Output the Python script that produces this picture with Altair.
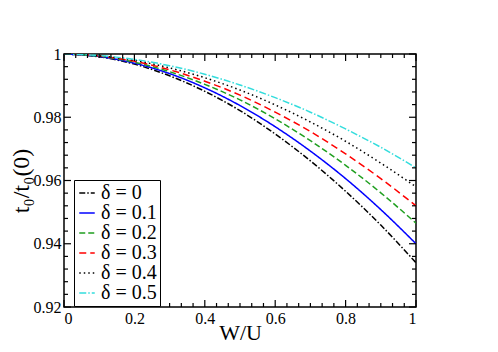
import altair as alt
import pandas as pd

# ---- data ----
w_u = [0.0, 0.1, 0.2, 0.3, 0.4, 0.5, 0.6, 0.7, 0.8, 0.9, 1.0]
t_d00 = [1.0, 0.9991, 0.9968, 0.9931, 0.9882, 0.9821, 0.9747, 0.9662, 0.9566, 0.9459, 0.9340]
t_d01 = [1.0, 0.9992, 0.9971, 0.9938, 0.9893, 0.9837, 0.9770, 0.9693, 0.9606, 0.9508, 0.9400]
t_d02 = [1.0, 0.9993, 0.9974, 0.9944, 0.9904, 0.9855, 0.9795, 0.9726, 0.9648, 0.9561, 0.9465]
t_d03 = [1.0, 0.9994, 0.9977, 0.9950, 0.9914, 0.9870, 0.9816, 0.9755, 0.9684, 0.9606, 0.9520]
t_d04 = [1.0, 0.9994, 0.9980, 0.9956, 0.9925, 0.9886, 0.9839, 0.9785, 0.9724, 0.9655, 0.9580]
t_d05 = [1.0, 0.9995, 0.9983, 0.9963, 0.9936, 0.9902, 0.9862, 0.9816, 0.9763, 0.9705, 0.9640]

labels = ["δ = 0", "δ = 0.1", "δ = 0.2", "δ = 0.3", "δ = 0.4", "δ = 0.5"]
series = [t_d00, t_d01, t_d02, t_d03, t_d04, t_d05]
colors = ["#000000", "#0000ff", "#1f9f1f", "#ff0000", "#000000", "#33dddd"]
dashes = [[6, 2, 1.5, 2], [1, 0], [6, 3], [7, 4], [1.5, 3], [7, 2, 1.5, 2]]

x_major = [0, 0.2, 0.4, 0.6, 0.8, 1.0]
x_minor = [k / 30 for k in range(31) if k % 6 != 0]
y_major = [0.92, 0.94, 0.96, 0.98, 1.0]
y_minor = [0.92 + k * 0.004 for k in range(21) if k % 5 != 0]

W, H = 352, 253
FONT = "Liberation Serif"

rows = []
for lab, vals in zip(labels, series):
    for x, y in zip(w_u, vals):
        rows.append({"W": x, "t": y, "delta": lab})
df = pd.DataFrame(rows)

x_scale = alt.Scale(domain=[0, 1], nice=False)
y_scale = alt.Scale(domain=[0.92, 1.0], nice=False, zero=False)

x_axis = alt.Axis(values=x_major, format="~g", title="W/U", labelPadding=3,
                  titleBaseline="alphabetic", titleY=32)
y_axis = alt.Axis(values=y_major, format="~g", title="t₀/t₀(0)", labelPadding=3,
                  titlePadding=0, titleFontSize=24)

legend = alt.Legend(
    title=None, orient="none", legendX=10, legendY=126,
    symbolType="stroke", symbolSize=240, symbolStrokeWidth=1.5,
    labelFont=FONT, labelFontSize=20, labelOffset=4, labelColor="black",
    strokeColor="black", fillColor="white", padding=3, rowPadding=-2,
    labelLimit=200,
)

lines = alt.Chart(df).mark_line(strokeWidth=1.5, interpolate="monotone", clip=True).encode(
    x=alt.X("W:Q", scale=x_scale, axis=x_axis),
    y=alt.Y("t:Q", scale=y_scale, axis=y_axis),
    color=alt.Color("delta:N", scale=alt.Scale(domain=labels, range=colors), legend=legend),
    strokeDash=alt.StrokeDash("delta:N", scale=alt.Scale(domain=labels, range=dashes), legend=legend),
)

def xticks(vals, length):
    d = pd.DataFrame({"p": vals})
    base = alt.Chart(d).mark_rule(color="black", strokeWidth=1.2)
    bottom = base.encode(x=alt.X("p:Q", scale=x_scale, axis=x_axis),
                         y=alt.value(H), y2=alt.value(H - length))
    top = base.encode(x=alt.X("p:Q", scale=x_scale, axis=x_axis),
                      y=alt.value(0), y2=alt.value(length))
    return [bottom, top]

def yticks(vals, length):
    d = pd.DataFrame({"p": vals})
    base = alt.Chart(d).mark_rule(color="black", strokeWidth=1.2)
    left = base.encode(y=alt.Y("p:Q", scale=y_scale, axis=y_axis),
                       x=alt.value(0), x2=alt.value(length))
    right = base.encode(y=alt.Y("p:Q", scale=y_scale, axis=y_axis),
                        x=alt.value(W), x2=alt.value(W - length))
    return [left, right]

layers = [lines] + xticks(x_major, 7) + xticks(x_minor, 4) + yticks(y_major, 7) + yticks(y_minor, 4)

chart = alt.layer(*layers).properties(
    width=W, height=H, background="white",
    autosize=alt.AutoSizeParams(type="none"),
    padding={"left": 56, "top": 46, "right": 74, "bottom": 37},
).configure_view(
    stroke="black", strokeWidth=1.5
).configure_axis(
    ticks=False, domain=False, grid=False,
    labelFont=FONT, labelFontSize=16, labelColor="black",
    titleFont=FONT, titleFontSize=22, titleFontWeight="normal", titleColor="black",
)

chart.save("out.html", embed_options={"renderer": "svg", "actions": False})
